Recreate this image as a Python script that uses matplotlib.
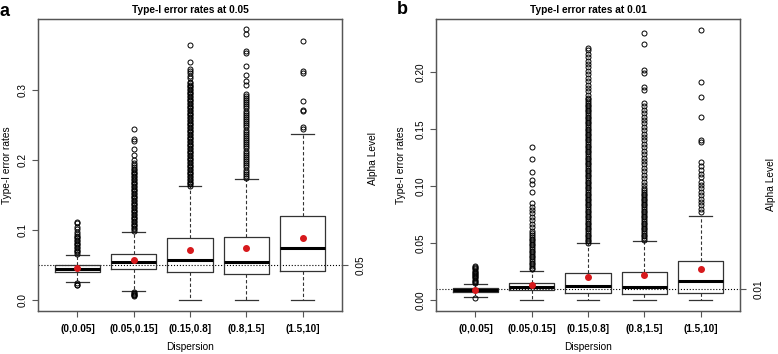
#!/usr/bin/env python3
"""Two-panel boxplot of type-I error rates by dispersion bin."""

import matplotlib

matplotlib.use("Agg")
import matplotlib.pyplot as plt

plt.rcParams["font.family"] = ["Liberation Sans", "DejaVu Sans"]

groups = ["(0,0.05]", "(0.05,0.15]", "(0.15,0.8]", "(0.8,1.5]", "(1.5,10]"]

# panel a: nominal level 0.05
a_alpha = 0.05
a_q1 = [0.0396, 0.0443, 0.0396, 0.0367, 0.0419]
a_med = [0.0443, 0.0538, 0.0576, 0.0548, 0.0748]
a_q3 = [0.0496, 0.0657, 0.0886, 0.0905, 0.1200]
a_lo = [0.0253, 0.0124, 0.0000, 0.0000, 0.0000]
a_hi = [0.0638, 0.0976, 0.1624, 0.1720, 0.2360]
a_mean = [0.0457, 0.0570, 0.0714, 0.0748, 0.0880]
a_fliers = [
    [0.021, 0.022, 0.024,
     0.066, 0.068, 0.070, 0.072, 0.074, 0.076, 0.078, 0.080, 0.082, 0.084, 0.086,
     0.088, 0.090, 0.092, 0.094, 0.097, 0.101, 0.104, 0.110, 0.112],
    [0.006, 0.007, 0.008, 0.009, 0.010, 0.012,
     0.099, 0.101, 0.103, 0.105, 0.107, 0.109, 0.111, 0.113, 0.115, 0.117, 0.119,
     0.121, 0.123, 0.125, 0.127, 0.129, 0.131, 0.133, 0.135, 0.137, 0.139, 0.141,
     0.143, 0.145, 0.147, 0.149, 0.151, 0.153, 0.155, 0.157, 0.159, 0.161, 0.163,
     0.165, 0.167, 0.169, 0.171, 0.173, 0.175, 0.177, 0.179, 0.181, 0.183, 0.185,
     0.187, 0.190, 0.193, 0.196, 0.200, 0.207, 0.215, 0.227, 0.229, 0.244],
    [0.163, 0.165, 0.167, 0.169, 0.171, 0.173, 0.175, 0.177, 0.179, 0.181,
     0.183, 0.185, 0.187, 0.189, 0.191, 0.193, 0.195, 0.197, 0.199, 0.201,
     0.203, 0.205, 0.207, 0.209, 0.211, 0.213, 0.215, 0.217, 0.219, 0.221,
     0.223, 0.225, 0.227, 0.229, 0.231, 0.233, 0.235, 0.237, 0.239, 0.241,
     0.243, 0.245, 0.247, 0.249, 0.251, 0.253, 0.255, 0.257, 0.259, 0.261,
     0.263, 0.265, 0.267, 0.269, 0.271, 0.273, 0.275, 0.277, 0.279, 0.281,
     0.283, 0.285, 0.287, 0.289, 0.291, 0.293, 0.295, 0.297, 0.299, 0.301,
     0.303, 0.305, 0.307, 0.309, 0.311,
     0.316, 0.319, 0.323, 0.327, 0.329, 0.339, 0.364],
    [0.174, 0.177, 0.180, 0.183, 0.186, 0.189, 0.192, 0.195, 0.198, 0.201, 0.204,
     0.207, 0.210, 0.213, 0.216, 0.219, 0.222, 0.225, 0.228, 0.231, 0.234, 0.237,
     0.240, 0.243, 0.246, 0.249, 0.252, 0.255, 0.258, 0.261, 0.264, 0.267, 0.270,
     0.273, 0.276, 0.279, 0.282, 0.285, 0.288, 0.291, 0.293,
     0.306, 0.312, 0.321, 0.333, 0.352, 0.355, 0.379, 0.386],
    [0.244, 0.247, 0.270, 0.271, 0.283, 0.323, 0.327, 0.369],
]

# panel b: nominal level 0.01
b_alpha = 0.01
b_q1 = [0.0072, 0.0090, 0.0067, 0.0058, 0.0067]
b_med = [0.0087, 0.0117, 0.0126, 0.0114, 0.0164]
b_q3 = [0.0103, 0.0152, 0.0240, 0.0243, 0.0342]
b_lo = [0.0026, 0.0000, 0.0000, 0.0000, 0.0000]
b_hi = [0.0143, 0.0260, 0.0497, 0.0520, 0.0740]
b_mean = [0.0090, 0.0134, 0.0205, 0.0225, 0.0272]
b_fliers = [
    [0.002, 0.015, 0.016, 0.017, 0.018, 0.019, 0.020, 0.021, 0.022, 0.023, 0.024,
     0.025, 0.026, 0.027, 0.028, 0.029, 0.030],
    [0.027, 0.0285, 0.030, 0.0315, 0.033, 0.0345, 0.036, 0.0375, 0.039, 0.0405,
     0.042, 0.0435, 0.045, 0.0465, 0.048, 0.0495, 0.051, 0.0525, 0.054, 0.0555,
     0.057, 0.0585, 0.061, 0.064, 0.067, 0.070, 0.073, 0.076, 0.079, 0.082, 0.085,
     0.0944, 0.102, 0.105, 0.1126, 0.124, 0.1345],
    [0.050, 0.0515, 0.053, 0.0545, 0.056, 0.0575, 0.059, 0.0605, 0.062, 0.0635,
     0.065, 0.0665, 0.068, 0.0695, 0.071, 0.0725, 0.074, 0.0755, 0.077, 0.0785,
     0.080, 0.0815, 0.083, 0.0845, 0.086, 0.0875, 0.089, 0.0905, 0.092, 0.0935,
     0.095, 0.0965, 0.098, 0.0995, 0.101, 0.1025, 0.104, 0.1055, 0.107, 0.1085,
     0.110, 0.1115, 0.113, 0.1145, 0.116, 0.1175, 0.119, 0.1205, 0.122, 0.1235,
     0.125, 0.1265, 0.128, 0.1295, 0.131, 0.1325, 0.134, 0.1355, 0.137, 0.1385,
     0.140, 0.1415, 0.143, 0.1445, 0.146, 0.1475, 0.149, 0.1505, 0.152, 0.1535,
     0.155, 0.1565, 0.158, 0.1595, 0.161, 0.1625, 0.164, 0.1655, 0.167, 0.1685,
     0.170, 0.1715, 0.173, 0.1745, 0.176, 0.1775,
     0.180, 0.183, 0.186, 0.189, 0.192, 0.195, 0.198, 0.201, 0.204, 0.207, 0.210,
     0.213, 0.216, 0.219, 0.221],
    [0.053, 0.0545, 0.056, 0.0575, 0.059, 0.0605, 0.062, 0.0635, 0.065, 0.0665,
     0.068, 0.0695, 0.071, 0.0725, 0.074, 0.0755, 0.077, 0.0785, 0.080, 0.0815,
     0.083, 0.0845, 0.086, 0.0875, 0.089, 0.0905, 0.092, 0.0935, 0.095, 0.0965,
     0.098, 0.101, 0.104, 0.107, 0.110, 0.113, 0.116, 0.119, 0.122, 0.125, 0.128,
     0.131, 0.134, 0.137, 0.140, 0.143, 0.146, 0.149, 0.152, 0.155, 0.158, 0.161,
     0.164, 0.167, 0.170, 0.1725, 0.184, 0.187, 0.199, 0.2017, 0.225, 0.2345],
    [0.077, 0.080, 0.083, 0.086, 0.089, 0.092, 0.095, 0.098, 0.101, 0.104, 0.108,
     0.111, 0.114, 0.118, 0.121, 0.139, 0.140, 0.161, 0.178, 0.191, 0.237],
]

EDGE = "#333333"
SPINE = "#555555"
RED = "#d7191c"
W, H = 778, 354


def draw_panel(ax, q1, med, q3, lo, hi, mean, fliers, alpha, ylim, yticks, yticklabels, title):
    stats = [
        dict(q1=q1[i], med=med[i], q3=q3[i], whislo=lo[i], whishi=hi[i], mean=mean[i], fliers=fliers[i])
        for i in range(len(groups))
    ]
    ax.bxp(
        stats,
        positions=range(1, len(groups) + 1),
        widths=0.8,
        capwidths=0.4,
        showmeans=True,
        boxprops=dict(color=EDGE, linewidth=0.9),
        medianprops=dict(color="black", linewidth=2.2),
        whiskerprops=dict(color=EDGE, linewidth=0.8, linestyle=(0, (3, 2))),
        capprops=dict(color=EDGE, linewidth=0.9),
        flierprops=dict(marker="o", markerfacecolor="none", markeredgecolor="black", markersize=3.6, markeredgewidth=0.7),
        meanprops=dict(marker="o", markerfacecolor=RED, markeredgecolor=RED, markersize=4),
    )
    ax.axhline(alpha, color="black", linestyle=":", linewidth=0.8, zorder=1.5)
    ax.set_xlim(0.3, 5.7)
    ax.set_ylim(*ylim)
    ax.set_xticks(range(1, len(groups) + 1))
    ax.set_xticklabels(groups, fontweight="bold", fontsize=7.2)
    ax.set_yticks(yticks)
    ax.set_yticklabels(yticklabels, rotation=90, va="center", fontsize=7.2)
    ax.tick_params(axis="x", length=4, width=0.8, color=SPINE, pad=5)
    ax.tick_params(axis="y", length=4, width=0.8, color=SPINE, pad=3.5)
    for spine in ax.spines.values():
        spine.set_color(SPINE)
        spine.set_linewidth(0.9)
    ax.text(0.5, 1.0325, title, transform=ax.transAxes, ha="center", va="center", fontweight="bold", fontsize=7.3)
    ax.set_xlabel("Dispersion", fontsize=7.3, va="center")
    ax.xaxis.set_label_coords(0.5, -0.123)
    ax.set_ylabel("Type-I error rates", fontsize=7.3, va="center")

    right = ax.twinx()
    right.set_ylim(*ylim)
    right.set_yticks([alpha])
    right.set_yticklabels([f"{alpha:.2f}"], rotation=90, va="center", fontsize=7.2)
    right.tick_params(axis="y", length=4, width=0.8, color=SPINE, pad=5.5)
    for spine in right.spines.values():
        spine.set_color(SPINE)
        spine.set_linewidth(0.9)
    right.set_ylabel("Alpha Level", fontsize=7.3, va="center")
    return right


fig = plt.figure(figsize=(W / 100, H / 100), dpi=100)
ax_a = fig.add_axes([38 / W, 1 - 311 / H, 304 / W, 292 / H])
ax_b = fig.add_axes([436 / W, 1 - 311 / H, 304 / W, 292 / H])

right_a = draw_panel(ax_a, a_q1, a_med, a_q3, a_lo, a_hi, a_mean, a_fliers, a_alpha,
                     (-0.0154, 0.4004), [0.0, 0.1, 0.2, 0.3], ["0.0", "0.1", "0.2", "0.3"],
                     "Type-I error rates at 0.05")
ax_a.yaxis.set_label_coords(-0.102, 0.5)
right_a.yaxis.set_label_coords(1.102, 0.521)

right_b = draw_panel(ax_b, b_q1, b_med, b_q3, b_lo, b_hi, b_mean, b_fliers, b_alpha,
                     (-0.0095, 0.2465), [0.0, 0.05, 0.10, 0.15, 0.20], ["0.00", "0.05", "0.10", "0.15", "0.20"],
                     "Type-I error rates at 0.01")
ax_b.yaxis.set_label_coords(-0.115, 0.5)
right_b.yaxis.set_label_coords(1.102, 0.432)

fig.text(5 / W, 1 - 11 / H, "a", ha="center", va="center", fontweight="bold", fontsize=13)
fig.text(402 / W, 1 - 10 / H, "b", ha="center", va="center", fontweight="bold", fontsize=13)

fig.savefig("out.png", dpi=100)
